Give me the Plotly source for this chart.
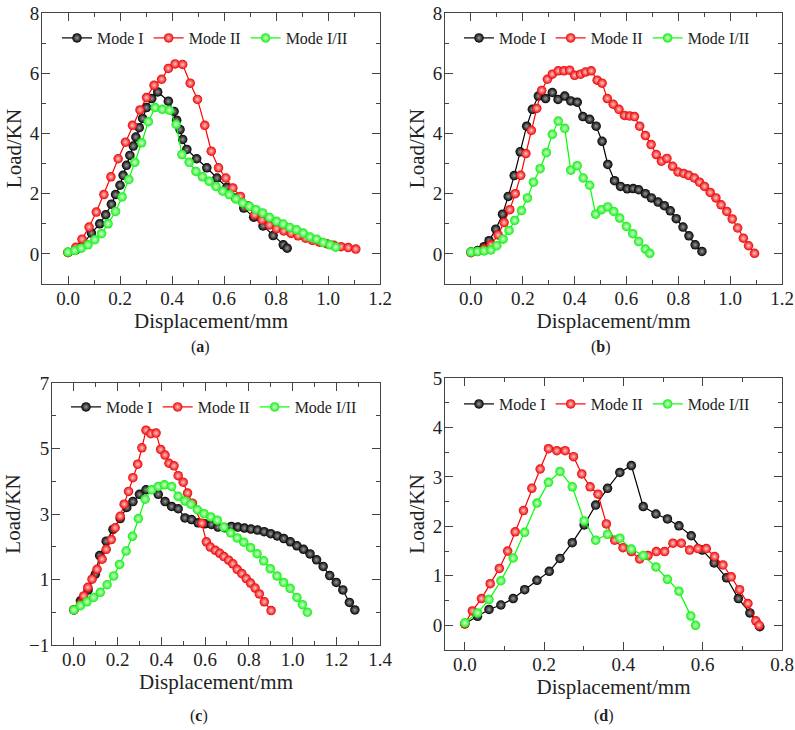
import plotly.graph_objects as go

# ---------------- data ----------------
a_m1_x = [0, 0.03, 0.06, 0.09, 0.122, 0.145, 0.167, 0.183, 0.2, 0.212, 0.225, 0.238, 0.251, 0.261, 0.274, 0.287, 0.302, 0.322, 0.345, 0.386, 0.408, 0.418, 0.431, 0.441, 0.457, 0.495, 0.534, 0.573, 0.611, 0.644, 0.676, 0.714, 0.75, 0.789, 0.828, 0.843]
a_m1_y = [0.05, 0.13, 0.35, 0.69, 1.0, 1.3, 1.65, 1.97, 2.28, 2.61, 2.94, 3.27, 3.58, 3.88, 4.19, 4.5, 4.86, 5.16, 5.38, 5.07, 4.73, 4.44, 4.13, 3.8, 3.47, 3.16, 2.86, 2.52, 2.21, 1.86, 1.52, 1.22, 0.93, 0.61, 0.3, 0.19]
a_m2_x = [0, 0.03, 0.054, 0.081, 0.109, 0.138, 0.165, 0.193, 0.221, 0.248, 0.277, 0.302, 0.331, 0.36, 0.386, 0.412, 0.441, 0.47, 0.498, 0.526, 0.551, 0.579, 0.607, 0.634, 0.663, 0.691, 0.718, 0.746, 0.775, 0.802, 0.83, 0.858, 0.885, 0.914, 0.94, 0.967, 0.995, 1.022, 1.05, 1.078, 1.107]
a_m2_y = [0.05, 0.22, 0.49, 0.89, 1.39, 1.97, 2.56, 3.16, 3.71, 4.27, 4.78, 5.19, 5.6, 5.8, 6.16, 6.31, 6.29, 5.67, 5.13, 4.27, 3.41, 2.86, 2.52, 2.19, 1.91, 1.6, 1.3, 1.13, 0.96, 0.84, 0.76, 0.68, 0.6, 0.52, 0.45, 0.39, 0.34, 0.29, 0.24, 0.21, 0.16]
a_m12_x = [0, 0.026, 0.051, 0.077, 0.103, 0.129, 0.154, 0.183, 0.208, 0.234, 0.257, 0.283, 0.309, 0.335, 0.363, 0.39, 0.416, 0.438, 0.466, 0.492, 0.517, 0.543, 0.569, 0.595, 0.62, 0.646, 0.672, 0.698, 0.723, 0.749, 0.775, 0.802, 0.828, 0.853, 0.879, 0.905, 0.931, 0.956, 0.982, 1.008, 1.03]
a_m12_y = [0.06, 0.11, 0.19, 0.3, 0.47, 0.67, 1.0, 1.41, 1.89, 2.47, 3.04, 3.69, 4.39, 4.86, 4.8, 4.77, 4.3, 3.3, 3.04, 2.74, 2.56, 2.41, 2.24, 2.08, 1.97, 1.82, 1.69, 1.58, 1.47, 1.36, 1.21, 1.08, 0.99, 0.88, 0.8, 0.69, 0.56, 0.49, 0.38, 0.3, 0.22]

b_m1_x = [0, 0.026, 0.051, 0.07, 0.096, 0.122, 0.144, 0.167, 0.19, 0.215, 0.237, 0.26, 0.288, 0.314, 0.336, 0.362, 0.385, 0.41, 0.432, 0.458, 0.483, 0.506, 0.528, 0.554, 0.577, 0.603, 0.626, 0.647, 0.673, 0.696, 0.722, 0.746, 0.769, 0.792, 0.818, 0.841, 0.865, 0.891]
b_m1_y = [0.06, 0.11, 0.24, 0.44, 0.82, 1.32, 1.91, 2.6, 3.39, 4.24, 4.8, 5.24, 5.16, 5.36, 5.13, 5.24, 5.08, 5.04, 4.56, 4.47, 4.24, 3.74, 2.97, 2.43, 2.24, 2.16, 2.17, 2.13, 2.0, 1.86, 1.72, 1.6, 1.43, 1.17, 0.89, 0.6, 0.3, 0.08]
b_m2_x = [0, 0.026, 0.05, 0.077, 0.105, 0.128, 0.15, 0.171, 0.192, 0.212, 0.233, 0.254, 0.273, 0.295, 0.314, 0.337, 0.359, 0.381, 0.4, 0.423, 0.442, 0.464, 0.487, 0.506, 0.526, 0.549, 0.571, 0.592, 0.612, 0.631, 0.651, 0.673, 0.695, 0.715, 0.735, 0.756, 0.778, 0.799, 0.821, 0.84, 0.862, 0.882, 0.901, 0.923, 0.945, 0.965, 0.987, 1.008, 1.029, 1.051, 1.071, 1.094]
b_m2_y = [0.04, 0.08, 0.16, 0.3, 0.63, 1.04, 1.47, 2.0, 2.61, 3.33, 4.1, 4.83, 5.43, 5.8, 5.97, 6.08, 6.08, 6.1, 5.93, 5.97, 6.04, 6.08, 5.77, 5.67, 5.16, 4.97, 4.8, 4.6, 4.58, 4.56, 4.24, 3.93, 3.63, 3.3, 3.08, 3.17, 2.91, 2.72, 2.67, 2.61, 2.52, 2.38, 2.24, 2.04, 1.86, 1.63, 1.41, 1.16, 0.86, 0.52, 0.27, 0.02]
b_m12_x = [0, 0.026, 0.051, 0.077, 0.1, 0.124, 0.147, 0.169, 0.195, 0.218, 0.241, 0.267, 0.291, 0.314, 0.337, 0.362, 0.385, 0.41, 0.433, 0.458, 0.481, 0.504, 0.528, 0.551, 0.574, 0.6, 0.624, 0.647, 0.673, 0.69]
b_m12_y = [0.06, 0.08, 0.1, 0.13, 0.27, 0.49, 0.78, 1.11, 1.44, 1.86, 2.38, 2.83, 3.36, 3.97, 4.41, 4.17, 2.78, 2.93, 2.52, 2.28, 1.32, 1.47, 1.56, 1.41, 1.19, 0.91, 0.67, 0.41, 0.16, 0.02]

c_m1_x = [0, 0.03, 0.065, 0.098, 0.118, 0.148, 0.179, 0.212, 0.242, 0.27, 0.3, 0.33, 0.386, 0.417, 0.447, 0.477, 0.508, 0.538, 0.568, 0.598, 0.629, 0.659, 0.689, 0.72, 0.75, 0.78, 0.81, 0.84, 0.87, 0.9, 0.93, 0.96, 0.99, 1.02, 1.05, 1.08, 1.11, 1.14, 1.17, 1.2, 1.23, 1.26, 1.285]
c_m1_y = [0.07, 0.35, 0.68, 1.16, 1.73, 2.17, 2.53, 2.86, 3.2, 3.38, 3.6, 3.74, 3.6, 3.38, 3.23, 3.16, 2.88, 2.83, 2.73, 2.7, 2.68, 2.6, 2.58, 2.62, 2.6, 2.57, 2.54, 2.51, 2.46, 2.4, 2.33, 2.25, 2.15, 2.03, 1.92, 1.78, 1.6, 1.4, 1.12, 0.91, 0.68, 0.3, 0.07]
c_m2_x = [0, 0.03, 0.045, 0.064, 0.083, 0.106, 0.129, 0.148, 0.171, 0.189, 0.212, 0.23, 0.25, 0.27, 0.292, 0.311, 0.33, 0.352, 0.376, 0.397, 0.417, 0.435, 0.458, 0.477, 0.5, 0.52, 0.542, 0.585, 0.606, 0.624, 0.647, 0.667, 0.686, 0.708, 0.727, 0.747, 0.768, 0.788, 0.808, 0.829, 0.848, 0.871, 0.902]
c_m2_y = [0.07, 0.25, 0.5, 0.76, 1.01, 1.31, 1.62, 1.92, 2.22, 2.58, 2.93, 3.3, 3.69, 4.11, 4.52, 5.02, 5.56, 5.45, 5.47, 4.97, 4.8, 4.55, 4.47, 4.17, 3.97, 3.64, 3.33, 2.72, 2.15, 1.99, 1.89, 1.8, 1.7, 1.59, 1.48, 1.31, 1.18, 1.03, 0.89, 0.74, 0.56, 0.32, 0.05]
c_m12_x = [0, 0.03, 0.06, 0.09, 0.121, 0.152, 0.182, 0.209, 0.239, 0.268, 0.295, 0.326, 0.356, 0.386, 0.414, 0.447, 0.477, 0.508, 0.535, 0.565, 0.595, 0.626, 0.656, 0.686, 0.717, 0.747, 0.777, 0.808, 0.838, 0.868, 0.898, 0.929, 0.959, 0.989, 1.02, 1.045, 1.068]
c_m12_y = [0.07, 0.2, 0.32, 0.45, 0.61, 0.84, 1.11, 1.46, 1.87, 2.32, 2.86, 3.45, 3.74, 3.84, 3.89, 3.84, 3.54, 3.4, 3.3, 3.13, 3.01, 2.91, 2.81, 2.6, 2.42, 2.27, 2.14, 1.97, 1.79, 1.57, 1.33, 1.11, 0.91, 0.73, 0.45, 0.23, 0.0]

d_m1_x = [0, 0.032, 0.061, 0.091, 0.122, 0.151, 0.182, 0.213, 0.24, 0.271, 0.301, 0.33, 0.36, 0.391, 0.42, 0.45, 0.482, 0.511, 0.54, 0.571, 0.599, 0.629, 0.66, 0.69, 0.719, 0.744]
d_m1_y = [0.03, 0.18, 0.32, 0.41, 0.54, 0.72, 0.91, 1.09, 1.35, 1.67, 2.03, 2.43, 2.77, 3.09, 3.23, 2.4, 2.25, 2.15, 2.01, 1.81, 1.52, 1.26, 0.96, 0.54, 0.25, -0.03]
d_m2_x = [0, 0.019, 0.042, 0.064, 0.087, 0.108, 0.127, 0.148, 0.169, 0.19, 0.211, 0.232, 0.253, 0.274, 0.295, 0.316, 0.336, 0.357, 0.378, 0.399, 0.42, 0.441, 0.462, 0.483, 0.504, 0.525, 0.546, 0.567, 0.588, 0.609, 0.63, 0.651, 0.672, 0.693, 0.714, 0.734, 0.742]
d_m2_y = [0.03, 0.29, 0.54, 0.84, 1.15, 1.5, 1.89, 2.32, 2.77, 3.16, 3.57, 3.53, 3.53, 3.41, 3.06, 2.8, 2.65, 2.05, 1.72, 1.57, 1.49, 1.34, 1.41, 1.49, 1.49, 1.66, 1.66, 1.52, 1.55, 1.55, 1.39, 1.22, 0.98, 0.72, 0.44, 0.09, 0.0]
d_m12_x = [0, 0.032, 0.061, 0.091, 0.122, 0.151, 0.182, 0.211, 0.24, 0.271, 0.301, 0.33, 0.36, 0.391, 0.42, 0.45, 0.482, 0.511, 0.54, 0.57, 0.582]
d_m12_y = [0.05, 0.25, 0.52, 0.9, 1.36, 1.88, 2.47, 2.89, 3.11, 2.8, 2.11, 1.72, 1.84, 1.76, 1.54, 1.41, 1.18, 0.93, 0.69, 0.19, 0.0]

series_names = ["Mode I", "Mode II", "Mode I/II"]
panel_labels = ["a", "b", "c", "d"]
x_title = "Displacement/mm"
y_title = "Load/KN"

# ---------------- styling ----------------
FONT = "Liberation Serif, Times New Roman, serif"
W, H = 795, 730
line_colors = ["#000000", "#ff0000", "#00ff00"]
marker_colors = ["#000000", "#ee0000", "#11ee11"]
highlight = ["#9a9a9a", "#ffc8c8", "#d8ffd8"]
AX = "#444444"

panels = [
    dict(data=[(a_m1_x, a_m1_y), (a_m2_x, a_m2_y), (a_m12_x, a_m12_y)],
         px=(42, 380), py=(13, 284), xr=[-0.1, 1.2], yr=[-1, 8], ydt=2, y0=0, ymin=1,
         leg=(63, 38), cap=(200, 347)),
    dict(data=[(b_m1_x, b_m1_y), (b_m2_x, b_m2_y), (b_m12_x, b_m12_y)],
         px=(445, 782), py=(13, 284), xr=[-0.1, 1.2], yr=[-1, 8], ydt=2, y0=0, ymin=1,
         leg=(465, 38), cap=(601, 347)),
    dict(data=[(c_m1_x, c_m1_y), (c_m2_x, c_m2_y), (c_m12_x, c_m12_y)],
         px=(52, 380), py=(383, 645), xr=[-0.1, 1.4], yr=[-1, 7], ydt=2, y0=-1, ymin=1,
         leg=(72, 407), cap=(199, 716)),
    dict(data=[(d_m1_x, d_m1_y), (d_m2_x, d_m2_y), (d_m12_x, d_m12_y)],
         px=(445, 782), py=(378, 650), xr=[-0.05, 0.8], yr=[-0.5, 5], ydt=1, y0=0, ymin=0.5,
         leg=(465, 404), cap=(604, 716)),
]

fig = go.Figure()
layout = dict(width=W, height=H, margin=dict(l=0, r=0, t=0, b=0, autoexpand=False),
              paper_bgcolor="white", plot_bgcolor="white",
              font=dict(family=FONT, color="#222222"), annotations=[])

for i, p in enumerate(panels):
    n = "" if i == 0 else str(i + 1)
    legname = "legend" + n
    for k, (xs, ys) in enumerate(p["data"]):
        fig.add_trace(go.Scatter(
            x=xs, y=ys, mode="lines+markers", name=series_names[k],
            xaxis="x" + n, yaxis="y" + n, legend=legname,
            line=dict(color=line_colors[k], width=1.2),
            marker=dict(size=9.5, color=marker_colors[k], line=dict(width=0),
                        gradient=dict(type="radial", color=highlight[k])),
        ))
    common = dict(showline=True, linecolor=AX, linewidth=1, mirror="allticks",
                  ticks="inside", ticklen=8, tickwidth=1, tickcolor=AX,
                  showgrid=False, zeroline=False, automargin=False,
                  tickfont=dict(family=FONT, size=19, color="#222222"))
    layout["xaxis" + n] = dict(
        domain=[p["px"][0] / W, p["px"][1] / W], range=p["xr"], anchor="y" + n,
        dtick=0.2, tick0=0, tickformat=".1f", ticklabelstandoff=-3,
        minor=dict(dtick=0.1, ticks="inside", ticklen=4, tickcolor=AX, showgrid=False),
        title=dict(text=x_title, font=dict(family=FONT, size=21, color="#222222"), standoff=0),
        **common)
    layout["yaxis" + n] = dict(
        domain=[1 - p["py"][1] / H, 1 - p["py"][0] / H], range=p["yr"], anchor="x" + n,
        dtick=p["ydt"], tick0=p["y0"], tickformat="d", ticklabelstandoff=-2,
        minor=dict(dtick=p["ymin"], ticks="inside", ticklen=4, tickcolor=AX, showgrid=False),
        title=dict(text=y_title, font=dict(family=FONT, size=21, color="#222222"), standoff=2),
        **common)
    layout[legname] = dict(
        orientation="h", x=(p["leg"][0] - 6) / W, y=1 - p["leg"][1] / H,
        xanchor="left", yanchor="middle", bgcolor="rgba(0,0,0,0)",
        font=dict(family=FONT, size=16, color="#222222"),
        itemwidth=30, tracegroupgap=0)
    layout["annotations"].append(dict(
        text="(<b>%s</b>)" % panel_labels[i], x=p["cap"][0] / W, y=1 - p["cap"][1] / H,
        xref="paper", yref="paper", showarrow=False, xanchor="center", yanchor="middle",
        font=dict(family=FONT, size=16, color="#222222")))

fig.update_layout(**layout)
fig.write_html("out.html")
